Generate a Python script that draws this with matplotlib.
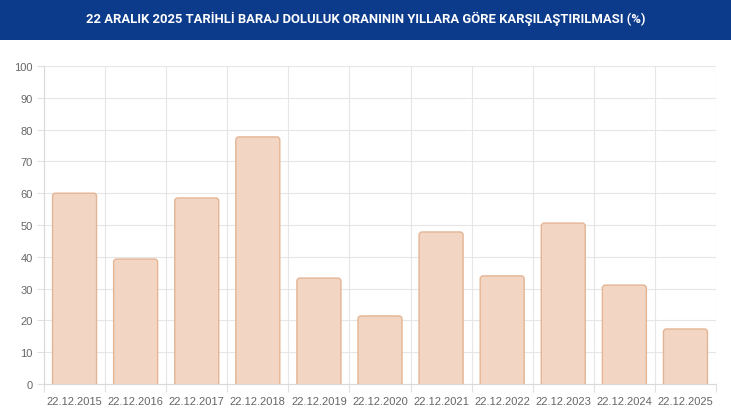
import matplotlib
matplotlib.use("Agg")
import matplotlib.pyplot as plt
from matplotlib.patches import FancyBboxPatch, Rectangle

categories = ["22.12.2015", "22.12.2016", "22.12.2017", "22.12.2018", "22.12.2019",
              "22.12.2020", "22.12.2021", "22.12.2022", "22.12.2023", "22.12.2024",
              "22.12.2025"]
values = [60.0, 39.3, 58.5, 77.7, 33.3, 21.4, 47.8, 34.0, 50.6, 31.1, 17.3]
yticks = [0, 10, 20, 30, 40, 50, 60, 70, 80, 90, 100]
title = "22 ARALIK 2025 TARİHLİ BARAJ DOLULUK ORANININ YILLARA GÖRE KARŞILAŞTIRILMASI (%)"

W, H = 731, 410
fig = plt.figure(figsize=(W / 100, H / 100), dpi=100)
fig.patch.set_facecolor("white")

# header band
fig.patches.append(Rectangle((0, 1 - 41 / H), 1, 41 / H, transform=fig.transFigure,
                             facecolor="#0c3b8c", edgecolor="none", zorder=0))
fig.text(0.5, 1 - 19 / H, title, ha="center", va="center", color="white",
         fontsize=9.4, fontweight="bold", family=["Roboto", "DejaVu Sans"])

left, right, top, bottom = 44, 716, 67, 385
ax = fig.add_axes([left / W, 1 - bottom / H, (right - left) / W, (bottom - top) / H])
n = len(categories)
ax.set_xlim(-0.5, n - 0.5)
ax.set_ylim(0, 100)

bars = ax.bar(range(n), values, width=0.72, color="none", edgecolor="none")
xunit = (right - left) / n
yunit = (bottom - top) / 100
aspect = xunit / yunit
r = 3.0 / xunit
for b in bars:
    x, w, h = b.get_x(), b.get_width(), b.get_height()
    p = FancyBboxPatch((x, -5), w, h + 5,
                       boxstyle=f"round,pad=0,rounding_size={r}",
                       mutation_aspect=aspect,
                       facecolor="#f2d6c3", edgecolor="#e4b594", linewidth=1.0,
                       zorder=3, clip_on=True)
    ax.add_patch(p)

ax.set_yticks(yticks)
ax.set_yticklabels([str(t) for t in yticks])
ax.set_xticks(range(n))
ax.set_xticklabels(categories)
ax.set_xticks([i - 0.5 for i in range(n + 1)], minor=True)

ax.grid(False)
for t in yticks:
    ax.axhline(t, color="#e6e6e6", linewidth=0.8, zorder=1)
for i in range(n + 1):
    ax.axvline(i - 0.5, color="#e6e6e6", linewidth=0.8, zorder=1)

ax.tick_params(axis="x", which="major", length=0, pad=9, labelsize=8, labelcolor="#666666")
ax.tick_params(axis="x", which="minor", length=6, color="#e0e0e0", width=0.8)
ax.tick_params(axis="y", length=5, color="#e0e0e0", width=0.8, pad=3,
               labelsize=8, labelcolor="#666666")
for lab in ax.get_xticklabels() + ax.get_yticklabels():
    lab.set_family(["Liberation Sans", "DejaVu Sans"])

for s in ["top", "right"]:
    ax.spines[s].set_visible(False)
for s in ["left", "bottom"]:
    ax.spines[s].set_color("#d9d9d9")
    ax.spines[s].set_linewidth(0.8)
ax.set_facecolor("none")

fig.savefig("out.png", dpi=100)
